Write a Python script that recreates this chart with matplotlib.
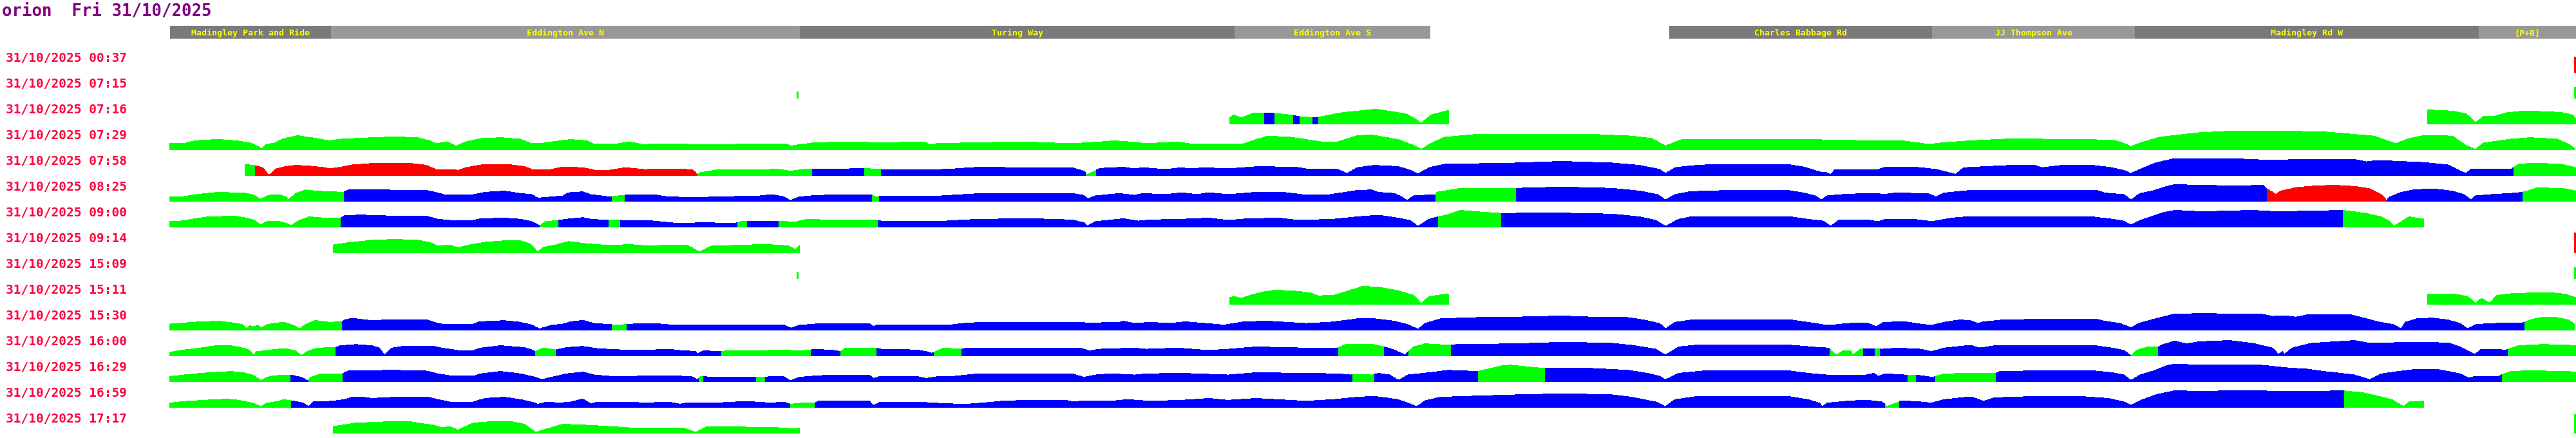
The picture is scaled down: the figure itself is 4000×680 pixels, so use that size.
#!/usr/bin/env python3
# orion bus trip speed strips, 31/10/2025

import matplotlib
matplotlib.use("Agg")
import matplotlib.pyplot as plt
from matplotlib.patches import Rectangle

# route stops along the top bar (route position, px units)
stop_names = ["Madingley Park and Ride", "Eddington Ave N", "Turing Way", "Eddington Ave S",
              "Charles Babbage Rd", "JJ Thompson Ave", "Madingley Rd W", "[P+R]"]
stop_start = [264, 514, 1242, 1917, 2592, 3000, 3315, 3849]
stop_end = [514, 1242, 1917, 2221, 3000, 3315, 3849, 4000]

trip_times = ["31/10/2025 00:37", "31/10/2025 07:15", "31/10/2025 07:16", "31/10/2025 07:29",
              "31/10/2025 07:58", "31/10/2025 08:25", "31/10/2025 09:00", "31/10/2025 09:14",
              "31/10/2025 15:09", "31/10/2025 15:11", "31/10/2025 15:30", "31/10/2025 16:00",
              "31/10/2025 16:29", "31/10/2025 16:59", "31/10/2025 17:17"]

# speed profiles: (route position, speed)
p_0037 = [(3996, 25), (4000, 25)]
c_0037 = [(3997, 4000, 'r')]

p_0715 = [(1236, 11), (1240, 11), (3996, 18), (4000, 18)]
c_0715 = [(1237, 1240, 'g'), (3997, 4000, 'g')]

p_0716 = [(1909, 9.8), (1916, 14.5), (1928, 10), (1947, 18), (1962, 18), (1979, 17), (1995, 15.5),
          (2008, 14), (2018, 12), (2038, 10.5), (2047, 11), (2083, 18), (2130, 23), (2134, 24),
          (2183, 16.4), (2198, 8), (2207, 2), (2222, 14.5), (2250, 22),
          (3769, 22.5), (3808, 20.7), (3829, 16.4), (3839, 8), (3844, 2.5), (3856, 12), (3874, 12.7),
          (3892, 18), (3923, 21), (3977, 18.5), (3995, 14.5), (4000, 8)]
c_0716 = [(1909, 1963, 'g'), (1963, 1979, 'b'), (1979, 2008, 'g'), (2008, 2018, 'b'), (2018, 2038, 'g'),
          (2038, 2047, 'b'), (2047, 2250, 'g'), (3769, 4000, 'g')]

p_0729 = [(263, 10.2), (286, 10), (298, 13.5), (314, 15.6), (341, 16.4), (368, 14.5), (389, 11), (401, 5.5),
          (406, 1.8), (414, 9), (426, 11), (438, 17), (462, 22.5), (492, 18), (511, 14.5), (529, 17),
          (571, 19), (614, 20.7), (650, 19), (668, 14.5), (677, 10), (695, 12.7), (708, 6), (723, 12.7),
          (747, 18), (777, 19.3), (808, 17), (823, 11), (838, 10), (856, 12.7), (886, 16.4), (911, 14.5),
          (923, 9), (959, 10), (977, 12.7), (1002, 8), (1014, 10), (1123, 8), (1159, 10), (1180, 10),
          (1222, 9), (1228, 6.5), (1265, 11.6), (1325, 12.7), (1380, 11), (1410, 12.7), (1435, 12.7),
          (1444, 8), (1453, 10), (1513, 11.6), (1592, 12.7), (1665, 10), (1707, 12.7), (1731, 14.5),
          (1756, 12.7), (1780, 10), (1828, 12.7), (1847, 10), (1931, 10), (1968, 21.8), (2004, 20),
          (2053, 12.7), (2077, 12.7), (2107, 22.5), (2130, 23.6), (2171, 16.4), (2195, 7.3), (2207, 1),
          (2219, 9), (2243, 20), (2292, 24.4), (2474, 24.4), (2534, 21.8), (2565, 18), (2586, 6.5),
          (2613, 17), (2807, 17), (2837, 15.6), (2958, 14), (2995, 9), (3019, 11.6), (3060, 14.5),
          (3123, 17.5), (3232, 16.4), (3280, 15.6), (3292, 12.7), (3309, 5.5), (3323, 11), (3353, 20),
          (3414, 27), (3474, 30), (3535, 30), (3614, 28), (3686, 21.8), (3720, 10), (3741, 18),
          (3765, 23), (3808, 21.8), (3829, 7.3), (3844, 1), (3856, 11), (3898, 17), (3929, 19.3),
          (3971, 17), (3989, 9), (3998, 2)]
c_0729 = [(263, 3998, 'g')]

p_0758 = [(380, 18), (396, 16), (408, 12.7), (414, 5.5), (417, 0.7), (421, 3.6), (429, 11), (444, 14.5),
          (459, 16.4), (480, 15.3), (505, 12.7), (511, 11), (529, 13.5), (547, 17), (577, 19.3),
          (638, 19.3), (662, 16.4), (677, 10), (705, 10), (711, 8.4), (723, 12.7), (747, 17), (771, 18),
          (795, 17), (814, 14.5), (826, 10), (856, 10), (874, 13.8), (905, 12.7), (923, 9), (947, 9),
          (971, 12.7), (1002, 9.8), (1026, 11), (1074, 9.8), (1080, 5.5), (1083, 0.7), (1086, 4.7),
          (1111, 9), (1159, 9.8), (1195, 10), (1204, 11), (1228, 7.3), (1247, 10), (1300, 10.5),
          (1342, 11.6), (1368, 10), (1441, 9), (1483, 11), (1525, 13.8), (1574, 12.7), (1665, 12.7),
          (1683, 7.3), (1688, 1.8), (1702, 8.4), (1707, 11.6), (1744, 13.5), (1762, 11), (1774, 12.7),
          (1810, 10), (1835, 12.7), (1847, 11), (1871, 12.7), (1907, 11), (1950, 14.2), (2010, 13.8),
          (2028, 11), (2077, 10), (2092, 3.6), (2107, 12.7), (2134, 16.4), (2171, 14.5), (2189, 9),
          (2202, 2.9), (2219, 12.7), (2243, 18), (2352, 20), (2425, 22.5), (2504, 20), (2546, 16.4),
          (2577, 10), (2586, 3.6), (2601, 12.7), (2625, 15.6), (2655, 17.5), (2777, 17.5), (2801, 13.8),
          (2828, 5.5), (2837, 5), (2843, 1.8), (2849, 10), (2916, 10), (2928, 13.5), (2971, 13.8),
          (3007, 10), (3037, 2.5), (3049, 12.7), (3123, 16.4), (3159, 16.4), (3171, 12.7), (3202, 16.4),
          (3244, 17), (3280, 12.7), (3302, 7.3), (3308, 3.6), (3329, 12.7), (3347, 20), (3377, 27),
          (3474, 26.5), (3529, 24), (3565, 25.5), (3656, 25.5), (3674, 21.8), (3692, 24), (3765, 20.7),
          (3801, 17), (3829, 3.6), (3838, 11), (3900, 11), (3911, 18), (3935, 20), (3977, 18),
          (4000, 12.7)]
c_0758 = [(380, 396, 'g'), (396, 1083, 'r'), (1083, 1261, 'g'), (1261, 1342, 'b'), (1342, 1368, 'g'),
          (1368, 1686, 'b'), (1686, 1702, 'g'), (1702, 3903, 'b'), (3903, 4000, 'g')]

p_0825 = [(263, 8), (286, 8), (305, 11), (335, 14.2), (377, 13.8), (392, 11), (405, 3.6), (417, 9.8),
          (432, 11), (444, 7.3), (448, 2.5), (459, 12.7), (474, 18.2), (492, 16.4), (534, 14.5),
          (541, 18.2), (583, 18.2), (662, 17.5), (680, 13.5), (692, 10), (735, 11), (753, 14.5),
          (783, 16.4), (808, 12.7), (826, 11), (835, 5.5), (856, 7.3), (874, 9), (883, 13.8), (905, 15.3),
          (917, 11), (947, 7.3), (960, 9), (971, 10), (1014, 11), (1038, 7.3), (1080, 6.5), (1180, 9),
          (1198, 11), (1216, 8), (1227, 1.8), (1241, 7.3), (1259, 9), (1301, 11), (1353, 11),
          (1360, 7.3), (1374, 9), (1453, 8.4), (1495, 11), (1525, 12.7), (1665, 12.7), (1683, 9.8),
          (1689, 4.4), (1701, 9), (1738, 12.7), (1762, 9.8), (1774, 12.7), (1810, 11), (1835, 13.8),
          (1859, 11), (1877, 13.8), (1907, 11), (1950, 14.5), (1992, 14.5), (2022, 11), (2065, 11),
          (2089, 14.5), (2107, 17.5), (2130, 18.2), (2140, 14.5), (2165, 12.7), (2177, 7.3), (2185, 1.8),
          (2195, 9), (2229, 11), (2231, 14.5), (2268, 20.7), (2322, 21), (2354, 20.7), (2389, 21.8),
          (2431, 22.5), (2504, 20.7), (2546, 16.4), (2574, 11), (2586, 2.5), (2601, 11), (2625, 15.6),
          (2686, 17.5), (2777, 17.5), (2801, 13.5), (2819, 9), (2828, 2.5), (2837, 9), (2868, 11.6),
          (2904, 12.7), (2928, 11.6), (2946, 13.8), (2995, 12), (3006, 7.3), (3019, 13.5), (3060, 17.5),
          (3256, 17.5), (3268, 13.5), (3298, 11), (3309, 2.5), (3323, 12.7), (3341, 16.4), (3365, 23.6),
          (3377, 26.5), (3414, 25.5), (3474, 24.4), (3514, 25.5), (3520, 20), (3529, 14.5), (3534, 11),
          (3541, 16.4), (3565, 21.8), (3595, 24.4), (3626, 25.5), (3656, 23.6), (3680, 20), (3698, 11),
          (3706, 1.8), (3711, 7.3), (3729, 14.5), (3747, 18.2), (3777, 20), (3808, 16.4), (3826, 11),
          (3837, 2.5), (3844, 9), (3868, 11), (3898, 12.7), (3917, 14.5), (3935, 20), (3941, 21.8),
          (3983, 20), (4000, 16.4)]
c_0825 = [(263, 534, 'g'), (534, 950, 'b'), (950, 970, 'g'), (970, 1354, 'b'), (1354, 1365, 'g'),
          (1365, 2229, 'b'), (2229, 2354, 'g'), (2354, 3520, 'b'), (3520, 3706, 'r'), (3706, 3917, 'b'),
          (3917, 4000, 'g')]

p_0900 = [(263, 9.8), (280, 9.8), (298, 12.7), (323, 16.4), (365, 17.5), (383, 14.5), (395, 11), (405, 3.6),
          (414, 9), (432, 9.8), (447, 5.5), (452, 2.5), (465, 11), (480, 16.4), (505, 14.5), (529, 14.5),
          (535, 18.2), (559, 19.3), (614, 17.5), (662, 17.5), (680, 12.7), (698, 11), (735, 11),
          (747, 13.5), (783, 14.5), (808, 12.7), (826, 9), (838, 2.5), (847, 9), (867, 11), (880, 12.7),
          (905, 15.3), (917, 12.7), (945, 11), (955, 11.6), (965, 11), (1014, 10), (1050, 6.5),
          (1098, 7.3), (1141, 6.2), (1150, 9), (1170, 9.8), (1200, 9.8), (1209, 9.8), (1235, 8.4),
          (1253, 12.7), (1301, 11), (1332, 11.6), (1363, 11), (1368, 10), (1453, 9), (1519, 12.7),
          (1604, 13.5), (1665, 11.6), (1683, 7.3), (1688, 2.5), (1701, 9), (1744, 13.5), (1768, 9.8),
          (1786, 11.6), (1835, 12.7), (1877, 14.5), (1907, 11), (1938, 13.5), (1986, 14.5), (2016, 11),
          (2071, 12.7), (2107, 16.4), (2130, 18.2), (2146, 18.2), (2171, 14.5), (2189, 11), (2202, 1.8),
          (2219, 12.7), (2233, 16.4), (2249, 20), (2268, 26.5), (2292, 24.4), (2331, 21.8), (2413, 22.5),
          (2504, 20.7), (2546, 16.4), (2571, 11), (2586, 1.8), (2607, 12.7), (2625, 16.4), (2716, 17),
          (2777, 17), (2807, 12.7), (2831, 9.8), (2843, 1.8), (2855, 11), (2898, 12), (2916, 9),
          (2928, 12.7), (2971, 12.7), (3000, 9), (3031, 14.5), (3060, 17), (3244, 17), (3280, 12.7),
          (3298, 9.8), (3309, 3.6), (3323, 11), (3341, 17), (3359, 23), (3377, 26.5), (3420, 24.4),
          (3498, 26.5), (3535, 24.4), (3595, 25.5), (3638, 26.5), (3674, 21.8), (3698, 16.4), (3711, 9),
          (3717, 1.8), (3729, 9), (3741, 16.4), (3759, 13.5), (3764, 12.7)]
c_0900 = [(263, 529, 'g'), (529, 838, 'b'), (838, 867, 'g'), (867, 945, 'b'), (945, 963, 'g'),
          (963, 1145, 'b'), (1145, 1160, 'g'), (1160, 1209, 'b'), (1209, 1363, 'g'), (1363, 2233, 'b'),
          (2233, 2331, 'g'), (2331, 3638, 'b'), (3638, 3764, 'g')]

p_0914 = [(517, 12.7), (535, 15.6), (577, 20), (614, 21.5), (650, 20), (668, 16.4), (680, 11), (698, 12.7),
          (711, 8.4), (729, 12.7), (753, 17), (783, 19.3), (808, 19.3), (823, 14.5), (835, 1.8), (844, 9),
          (862, 12.7), (883, 18.2), (911, 14.5), (947, 12), (977, 13.5), (1008, 11), (1038, 12.7),
          (1068, 12), (1086, 1.8), (1105, 11), (1159, 12.7), (1183, 13.5), (1210, 12.7), (1225, 11),
          (1235, 5.5), (1242, 12.7), (3996, 32), (4000, 32)]
c_0914 = [(517, 1242, 'g'), (3997, 4000, 'r')]

p_1509 = [(1236, 11), (1240, 11), (3996, 18), (4000, 18)]
c_1509 = [(1237, 1240, 'g'), (3997, 4000, 'g')]

p_1511 = [(1909, 10.9), (1916, 12.7), (1928, 10), (1941, 14.5), (1962, 20), (1980, 22.5), (1998, 21.8),
          (2016, 20.7), (2035, 18.2), (2047, 13.8), (2071, 14.5), (2089, 20), (2107, 25.5), (2116, 29),
          (2130, 27.6), (2140, 27.3), (2171, 21.8), (2195, 14.5), (2207, 1.8), (2219, 12.7), (2250, 17),
          (3769, 17), (3808, 17), (3832, 12.7), (3844, 1.8), (3853, 9.8), (3866, 2.5), (3877, 14.5),
          (3898, 17), (3929, 18.2), (3959, 18.9), (3983, 16.4), (4000, 10.9)]
c_1511 = [(1909, 2250, 'g'), (3769, 4000, 'g')]

p_1530 = [(263, 9.8), (286, 11.6), (311, 13.5), (341, 14.5), (362, 11.6), (377, 9), (383, 2.5), (388, 7.3),
          (395, 5.5), (400, 8.4), (406, 3.6), (414, 9), (429, 11.6), (441, 12.7), (456, 8), (465, 2.5),
          (474, 9), (489, 15.6), (511, 12.7), (531, 13.5), (535, 16.4), (547, 18.9), (577, 15.3),
          (614, 17), (662, 17), (674, 12.7), (686, 9.8), (735, 9.8), (744, 13.5), (783, 15.3), (808, 12.7),
          (826, 8.4), (838, 2.5), (856, 8), (874, 9.8), (886, 13.5), (905, 15.6), (923, 10.9), (950, 9),
          (962, 8.4), (977, 9.8), (1014, 10.9), (1050, 8), (1098, 9), (1123, 8), (1159, 9), (1192, 8),
          (1216, 9), (1228, 3.6), (1241, 8), (1277, 10.9), (1350, 10.9), (1356, 5.5), (1362, 9),
          (1435, 9), (1471, 8), (1495, 10.9), (1525, 12.7), (1665, 12.7), (1695, 11.6), (1738, 12.7),
          (1744, 14.5), (1762, 10.9), (1786, 12.7), (1816, 10.9), (1841, 13.5), (1901, 8.4), (1932, 13.5),
          (1968, 14.5), (2028, 10.9), (2065, 12.7), (2095, 16.4), (2113, 18.9), (2134, 18.2), (2165, 14.5),
          (2186, 9), (2202, 1.8), (2213, 10.9), (2237, 18.2), (2292, 20), (2352, 20.7), (2425, 22.5),
          (2474, 20.7), (2528, 20), (2552, 16.4), (2577, 10.9), (2586, 2.5), (2601, 12.7), (2631, 17),
          (2777, 17), (2807, 12.7), (2831, 9), (2843, 8), (2868, 10.9), (2898, 11.6), (2907, 9),
          (2913, 5.5), (2925, 12.7), (2958, 13.5), (2983, 9.8), (2999, 8), (3019, 12.7), (3043, 16.4),
          (3060, 15.3), (3071, 10.9), (3080, 13.5), (3111, 16.4), (3171, 17.5), (3256, 17.5),
          (3268, 14.5), (3292, 10.9), (3309, 4.4), (3323, 11.6), (3347, 18.2), (3377, 25.5), (3414, 26.2),
          (3511, 25.5), (3529, 21.8), (3547, 23), (3565, 20.7), (3583, 24.4), (3650, 24.4), (3668, 20),
          (3692, 13.5), (3717, 9), (3728, 2.5), (3735, 12.7), (3753, 18.2), (3777, 19.3), (3801, 16.4),
          (3820, 10.9), (3832, 2.5), (3844, 9), (3868, 10.9), (3917, 11.6), (3929, 16.4), (3947, 20.7),
          (3971, 20), (3989, 16.4), (3998, 9)]
c_1530 = [(263, 531, 'g'), (531, 950, 'b'), (950, 973, 'g'), (973, 3920, 'b'), (3920, 3998, 'g')]

p_1600 = [(263, 6.2), (286, 9.8), (311, 12.7), (335, 16.4), (359, 16.4), (377, 12.7), (388, 9), (394, 0.7),
          (398, 7.3), (411, 8.4), (432, 11), (444, 11.6), (459, 8.4), (468, 0.7), (477, 7.3), (492, 12.7),
          (521, 13.5), (529, 16.4), (553, 18.2), (577, 16.4), (589, 12.7), (597, 1.8), (608, 12.7),
          (626, 15.3), (674, 15.3), (686, 12.7), (711, 9), (735, 9), (747, 12.7), (777, 16.4), (814, 13.5),
          (826, 9.8), (831, 7.3), (844, 12.7), (863, 9.8), (880, 13.5), (905, 15.3), (929, 11.6),
          (965, 9.8), (1014, 9.8), (1038, 10.9), (1056, 9), (1080, 7.3), (1083, 3.6), (1092, 8.4),
          (1120, 7.3), (1129, 8.4), (1159, 9), (1180, 8.4), (1210, 9.8), (1241, 8.4), (1259, 9.8),
          (1265, 10.9), (1295, 9), (1305, 7.3), (1313, 12.7), (1361, 12.7), (1368, 10.9), (1422, 9.8),
          (1438, 7.3), (1447, 4.7), (1453, 7.3), (1465, 12.7), (1493, 10.9), (1501, 12.7), (1677, 12.7),
          (1692, 8.4), (1707, 10.9), (1762, 12.7), (1780, 10.9), (1828, 12.7), (1877, 9), (1907, 10.9),
          (1950, 14.5), (2028, 12.7), (2077, 12.7), (2089, 18.2), (2130, 18.9), (2149, 14.5), (2165, 9.8),
          (2182, 1.8), (2187, 7.3), (2195, 14.5), (2213, 19.3), (2253, 17), (2262, 18.2), (2352, 19.3),
          (2431, 21.8), (2504, 20), (2534, 17), (2571, 10.9), (2586, 1.8), (2607, 14.5), (2631, 17),
          (2777, 17.5), (2825, 13.5), (2840, 12.7), (2843, 9), (2852, 1.8), (2862, 8.4), (2874, 8.4),
          (2877, 1.8), (2889, 10.9), (2898, 11.6), (2911, 11.6), (2922, 10.9), (2946, 12.7), (2983, 10.9),
          (2999, 7.3), (3019, 12.7), (3060, 17), (3074, 12.7), (3098, 16.4), (3171, 17), (3250, 17),
          (3280, 12.7), (3298, 9), (3309, 0.7), (3317, 9), (3335, 14.5), (3351, 14.5), (3359, 18.2),
          (3377, 23.6), (3395, 19.3), (3414, 22.5), (3462, 24.4), (3498, 20), (3529, 12.7), (3538, 2.5),
          (3544, 7.3), (3547, 2.5), (3559, 12.7), (3589, 20), (3626, 22.5), (3656, 24.4), (3680, 20),
          (3747, 21.8), (3801, 20.7), (3820, 14.5), (3843, 2.5), (3853, 10.9), (3892, 9.8), (3911, 16.4),
          (3947, 18.2), (3983, 17.5), (4000, 16.4)]
c_1600 = [(263, 521, 'g'), (521, 831, 'b'), (831, 863, 'g'), (863, 1120, 'b'), (1120, 1259, 'g'),
          (1259, 1305, 'b'), (1305, 1361, 'g'), (1361, 1450, 'b'), (1450, 1493, 'g'), (1493, 2078, 'b'),
          (2078, 2149, 'g'), (2149, 2187, 'b'), (2187, 2253, 'g'), (2253, 2841, 'b'), (2841, 2893, 'g'),
          (2893, 2911, 'b'), (2911, 2919, 'g'), (2919, 3309, 'b'), (3309, 3351, 'g'), (3351, 3894, 'b'),
          (3894, 4000, 'g')]

p_1629 = [(263, 8.4), (286, 10.9), (311, 13.5), (359, 16.4), (377, 14.5), (392, 10.9), (406, 1.8), (414, 7.3),
          (426, 9.8), (451, 10.9), (456, 9.8), (468, 7.3), (478, 1.8), (483, 7.3), (498, 12.7), (532, 12.7),
          (541, 17.5), (614, 18.2), (662, 17), (680, 12.7), (698, 9.8), (735, 9), (747, 12.7), (777, 16.4),
          (808, 12.7), (832, 7.3), (841, 3.6), (856, 7.3), (880, 12.7), (905, 15.3), (923, 10.9),
          (953, 8.4), (1038, 9.8), (1074, 8.4), (1083, 3.6), (1089, 9), (1098, 8), (1147, 7.3),
          (1171, 7.3), (1192, 8), (1216, 9), (1227, 1.8), (1241, 7.3), (1271, 9.8), (1301, 10.9),
          (1350, 10.9), (1356, 5.5), (1368, 9), (1422, 9), (1438, 5.5), (1453, 8), (1483, 9), (1519, 12.7),
          (1665, 12.7), (1683, 7.3), (1701, 10.9), (1725, 12.7), (1762, 10.9), (1780, 12.7), (1835, 13.5),
          (1907, 10.9), (1950, 14.5), (2028, 13.5), (2077, 12.7), (2098, 10.9), (2107, 12), (2130, 10.9),
          (2140, 13.5), (2158, 10.9), (2172, 2.5), (2186, 10.9), (2219, 14.5), (2249, 18.2), (2295, 16.4),
          (2310, 20), (2334, 25.5), (2346, 26.2), (2371, 23.6), (2399, 21), (2413, 21.8), (2474, 21),
          (2528, 18.2), (2558, 13.5), (2577, 9), (2586, 3.6), (2607, 13.5), (2643, 17), (2777, 17.5),
          (2807, 13.5), (2837, 10.9), (2898, 10.9), (2910, 13.5), (2916, 9), (2928, 12.7), (2958, 10.9),
          (2975, 10.9), (3001, 7.3), (3019, 12.7), (3060, 13.5), (3099, 13.5), (3105, 16.4), (3171, 17.5),
          (3250, 17.5), (3280, 14.5), (3298, 10.9), (3309, 2.5), (3323, 10.9), (3347, 18.2), (3365, 25.5),
          (3377, 28), (3414, 26.2), (3511, 26.2), (3535, 23.6), (3553, 21.8), (3583, 20), (3608, 16.4),
          (3626, 14.5), (3656, 10.9), (3680, 3.6), (3698, 12.7), (3729, 17), (3753, 20), (3783, 20),
          (3801, 16.4), (3820, 12.7), (3833, 6.2), (3844, 9), (3880, 9), (3898, 16.4), (3929, 17.5),
          (3983, 16.4), (4000, 15.6)]
c_1629 = [(263, 451, 'g'), (451, 479, 'b'), (479, 532, 'g'), (532, 1085, 'b'), (1085, 1092, 'g'),
          (1092, 1174, 'b'), (1174, 1188, 'g'), (1188, 2100, 'b'), (2100, 2134, 'g'), (2134, 2295, 'b'),
          (2295, 2399, 'g'), (2399, 2962, 'b'), (2962, 2975, 'g'), (2975, 3005, 'b'), (3005, 3099, 'g'),
          (3099, 3885, 'b'), (3885, 4000, 'g')]

p_1659 = [(263, 7.3), (286, 9.8), (323, 12), (353, 13.5), (371, 11.6), (392, 7.3), (406, 1.8), (414, 7.3),
          (432, 9.8), (441, 12.7), (452, 10.9), (456, 10.2), (471, 7.3), (479, 1.8), (486, 9), (517, 10.2),
          (535, 12.7), (547, 16.4), (559, 17), (577, 14.5), (614, 16.4), (662, 17), (680, 12.7), (698, 9),
          (735, 9), (753, 14.5), (783, 16.4), (808, 12.7), (829, 8), (835, 5.5), (850, 9), (868, 7.3),
          (886, 9), (905, 13.5), (917, 6.2), (929, 9), (977, 9), (1002, 7.3), (1038, 9), (1056, 5.5),
          (1068, 8), (1123, 8), (1159, 9.8), (1198, 7.3), (1216, 9), (1227, 5.5), (1247, 7.3), (1265, 7.3),
          (1271, 10.2), (1350, 10.2), (1356, 3.6), (1368, 9), (1422, 9), (1471, 6.2), (1501, 5.5),
          (1525, 7.3), (1556, 10.2), (1604, 12), (1653, 12), (1668, 9), (1683, 10.9), (1725, 10.2),
          (1750, 12.7), (1786, 10.2), (1835, 11.6), (1877, 14.5), (1907, 11.6), (1950, 14.5), (2028, 10.2),
          (2071, 12.7), (2107, 16.4), (2130, 17.5), (2140, 17), (2171, 12.7), (2186, 7.3), (2200, 1.8),
          (2213, 10.9), (2237, 16.4), (2292, 18.2), (2352, 20), (2431, 21.8), (2504, 20), (2534, 16.4),
          (2571, 9), (2586, 1.8), (2601, 12.7), (2631, 17), (2777, 17.5), (2807, 12.7), (2825, 7.3),
          (2830, 1.8), (2837, 7.3), (2868, 10.2), (2898, 12), (2922, 9), (2927, 5.5), (2929, 1.8),
          (2949, 9), (2952, 10.9), (2983, 9), (2999, 7.3), (3019, 12.7), (3060, 17), (3068, 14.5),
          (3080, 10.2), (3098, 15.6), (3141, 17), (3232, 17.5), (3274, 14.5), (3298, 9), (3309, 3.6),
          (3323, 10.9), (3347, 20), (3377, 26.5), (3414, 25.5), (3474, 26.5), (3565, 25.5), (3640, 26.2),
          (3668, 23.6), (3692, 18.2), (3714, 12.7), (3732, 1.8), (3741, 9), (3764, 10.2)]
c_1659 = [(263, 452, 'g'), (452, 1227, 'b'), (1227, 1265, 'g'), (1265, 2927, 'b'), (2927, 2949, 'g'),
          (2949, 3640, 'b'), (3640, 3764, 'g')]

p_1717 = [(517, 10.9), (553, 16.3), (601, 18.2), (638, 18.2), (674, 12.7), (686, 9), (698, 10.9), (711, 5.5),
          (735, 16.4), (759, 18.2), (795, 18.2), (814, 14.5), (832, 2), (874, 14.5), (917, 12.7),
          (977, 9), (1060, 9), (1080, 2), (1098, 10.9), (1159, 10), (1210, 9), (1235, 7), (1242, 9),
          (3996, 30), (4000, 30)]
c_1717 = [(517, 1242, 'g'), (3997, 4000, 'g')]

profiles = [p_0037, p_0715, p_0716, p_0729, p_0758, p_0825, p_0900, p_0914,
            p_1509, p_1511, p_1530, p_1600, p_1629, p_1659, p_1717]
colour_runs = [c_0037, c_0715, c_0716, c_0729, c_0758, c_0825, c_0900, c_0914,
               c_1509, c_1511, c_1530, c_1600, c_1629, c_1659, c_1717]

colours = {'g': '#00ff00', 'b': '#0000ff', 'r': '#ff0000'}
bar_shade = ['#7a7a7a', '#989898']

fig = plt.figure(figsize=(40, 6.8), dpi=100)
ax = fig.add_axes([0, 0, 1, 1])
ax.set_xlim(0, 4000)
ax.set_ylim(680, 0)
ax.axis('off')

ax.text(3, 25, "orion  Fri 31/10/2025", color='#800080', fontsize=18.5,
        family='DejaVu Sans Mono', weight='bold', va='baseline')

# stop bar
for k, name in enumerate(stop_names):
    ax.add_patch(Rectangle((stop_start[k], 40), stop_end[k] - stop_start[k], 20,
                           facecolor=bar_shade[k % 2], edgecolor='none'))
    ax.text((stop_start[k] + stop_end[k]) / 2, 55.5, name, color='#ffff00', fontsize=9.6,
            family='DejaVu Sans Mono', weight='bold', ha='center', va='baseline')

# one strip per trip
for i, label in enumerate(trip_times):
    ax.text(9, 95.5 + 40 * i, label, color='#ff0040', fontsize=14,
            family='DejaVu Sans Mono', weight='bold', va='baseline')
    base = 113 + 40 * i
    xs = [p[0] for p in profiles[i]]
    tops = [base - p[1] for p in profiles[i]]
    for x0, x1, c in colour_runs[i]:
        poly = ax.fill_between(xs, tops, base, facecolor=colours[c], edgecolor='none',
                               linewidth=0, antialiased=False)
        poly.set_clip_path(Rectangle((x0, base - 40), x1 - x0, 41, transform=ax.transData))

fig.savefig('out.png', dpi=100)
print("done: out.png")
